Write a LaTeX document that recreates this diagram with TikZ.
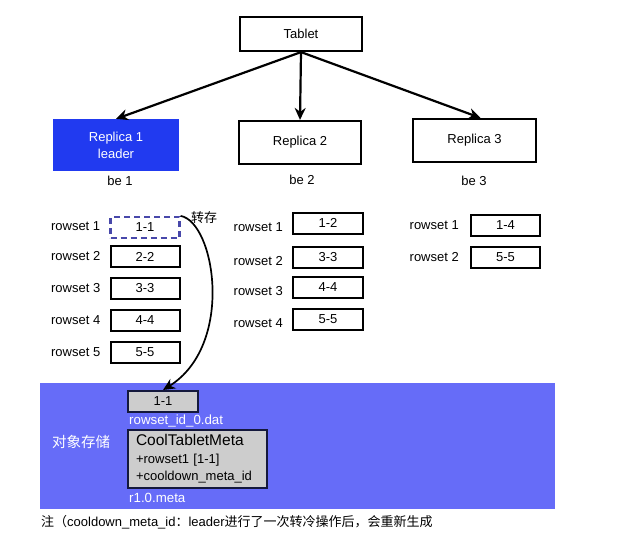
\documentclass[tikz,border=0pt]{standalone}
\usepackage{fontspec}
\setmainfont{Liberation Sans}
\newfontfamily\cjk{Noto Sans CJK SC}
\usepackage{xcolor}
\usepackage{tikz}
\usetikzlibrary{arrows.meta, positioning}
\definecolor{leaderblue}{RGB}{33, 58, 240}
\definecolor{storeblue}{RGB}{102, 108, 248}
\definecolor{dashblue}{RGB}{72, 72, 170}
\definecolor{boxnavy}{RGB}{20, 24, 60}
\definecolor{cellgray}{RGB}{205, 205, 205}
\tikzset{
  font=\fontsize{13}{15}\selectfont,
  replicablock/.style={
    rectangle, draw=black, line width=2.2pt,
    minimum width=122pt, minimum height=43pt,
    align=center, inner sep=0pt
  },
  rowblock/.style={
    rectangle, draw=black, line width=2pt,
    minimum width=69pt, minimum height=21pt, inner sep=0pt
  },
  rowlabel/.style={left=9pt of #1, inner sep=0pt},
  objblock/.style={
    rectangle, draw=boxnavy, fill=cellgray, line width=2pt, inner sep=0pt
  },
  whitetext/.style={text=white, inner sep=0pt, font=\fontsize{13.3}{15}\selectfont},
  flowline/.style={
    draw=black, -{Stealth[length=12pt, width=11pt]}, line width=2.2pt
  },
  dumpline/.style={
    draw=black, -{Stealth[length=12pt, width=11pt]}, line width=1.7pt
  }
}

\begin{document}
\begin{tikzpicture}[x=1pt, y=-1pt]
  \useasboundingbox (0,0) rectangle (618,541);

  % Object storage area
  \node[rectangle, fill=storeblue, minimum width=515pt, minimum height=126pt, inner sep=0pt] (store) at (297.5,446) {};
  \node[whitetext, font=\fontsize{14.5}{16}\selectfont] (storelabel) at (81,442) {\cjk 对象存储};

  % Tablet and replicas
  \node[replicablock, minimum height=34pt] (tablet) at (301,34) {Tablet};
  \node[replicablock, fill=leaderblue, draw=leaderblue, minimum width=124pt, minimum height=50pt, text=white] (rep1) at (116,145) {Replica 1\\[2pt]leader};
  \node[replicablock] (rep2) at (300,142.5) {Replica 2};
  \node[replicablock, minimum width=123pt] (rep3) at (474.5,140.5) {Replica 3};

  \node[inner sep=0pt] (be1) at (120,181) {be 1};
  \node[inner sep=0pt] (be2) at (302,180) {be 2};
  \node[inner sep=0pt] (be3) at (474,181) {be 3};

  % be 1 rowsets
  \node[rowblock, draw=dashblue, dash pattern=on 6pt off 4pt, line width=2.2pt] (r11) at (145,227.5) {1-1};
  \node[rowblock] (r12) at (145,256.5) {2-2};
  \node[rowblock] (r13) at (145,288) {3-3};
  \node[rowblock] (r14) at (145,320) {4-4};
  \node[rowblock] (r15) at (145,352) {5-5};
  \node[rowlabel=r11, yshift=1.5pt] (l11) {rowset 1};
  \node[rowlabel=r12] (l12) {rowset 2};
  \node[rowlabel=r13] (l13) {rowset 3};
  \node[rowlabel=r14] (l14) {rowset 4};
  \node[rowlabel=r15] (l15) {rowset 5};
  \node[inner sep=0pt] (dump) at (204,218) {\cjk 转存};

  % be 2 rowsets
  \node[rowblock, minimum width=70pt] (r21) at (328,223) {1-2};
  \node[rowblock, minimum width=70pt] (r22) at (328,257) {3-3};
  \node[rowblock, minimum width=70pt] (r23) at (328,287) {4-4};
  \node[rowblock, minimum width=70pt] (r24) at (328,319) {5-5};
  \node[rowlabel=r21, yshift=-4pt] (l21) {rowset 1};
  \node[rowlabel=r22, yshift=-4pt] (l22) {rowset 2};
  \node[rowlabel=r23, yshift=-4pt] (l23) {rowset 3};
  \node[rowlabel=r24, yshift=-4pt] (l24) {rowset 4};

  % be 3 rowsets
  \node[rowblock] (r31) at (505.5,225) {1-4};
  \node[rowblock] (r32) at (505.5,257) {5-5};
  \node[rowlabel=r31, left=11pt of r31] (l31) {rowset 1};
  \node[rowlabel=r32, left=11pt of r32] (l32) {rowset 2};

  % Objects in storage
  \node[objblock, minimum width=70pt, minimum height=21pt] (obj11) at (163,401.5) {1-1};
  \node[whitetext, anchor=west] (datname) at (129,421) {rowset\_id\_0.dat};
  \node[objblock, minimum width=139pt, minimum height=58pt, text width=123pt, align=left, font=\fontsize{13}{17}\selectfont] (meta) at (197.5,459) {
    {\fontsize{15.5}{17}\selectfont CoolTabletMeta}\\[1pt]
    +rowset1 [1-1]\\
    +cooldown\_meta\_id
  };
  \node[whitetext, anchor=west] (metaname) at (129,498) {r1.0.meta};

  % Note
  \node[anchor=west, inner sep=0pt] (note) at (41,522) {{\cjk 注（}cooldown\_meta\_id{\cjk ：}leader{\cjk 进行了一次转冷操作后，会重新生成}};

  \draw[flowline] (tablet.south) -- (rep1.north);
  \draw[flowline] (tablet.south) -- (rep2.north);
  \draw[flowline] (tablet.south) -- ([xshift=6pt]rep3.north);
  \draw[dumpline] (r11.north east) .. controls (215,222) and (235,345) .. (obj11.north);

\end{tikzpicture}
\end{document}
